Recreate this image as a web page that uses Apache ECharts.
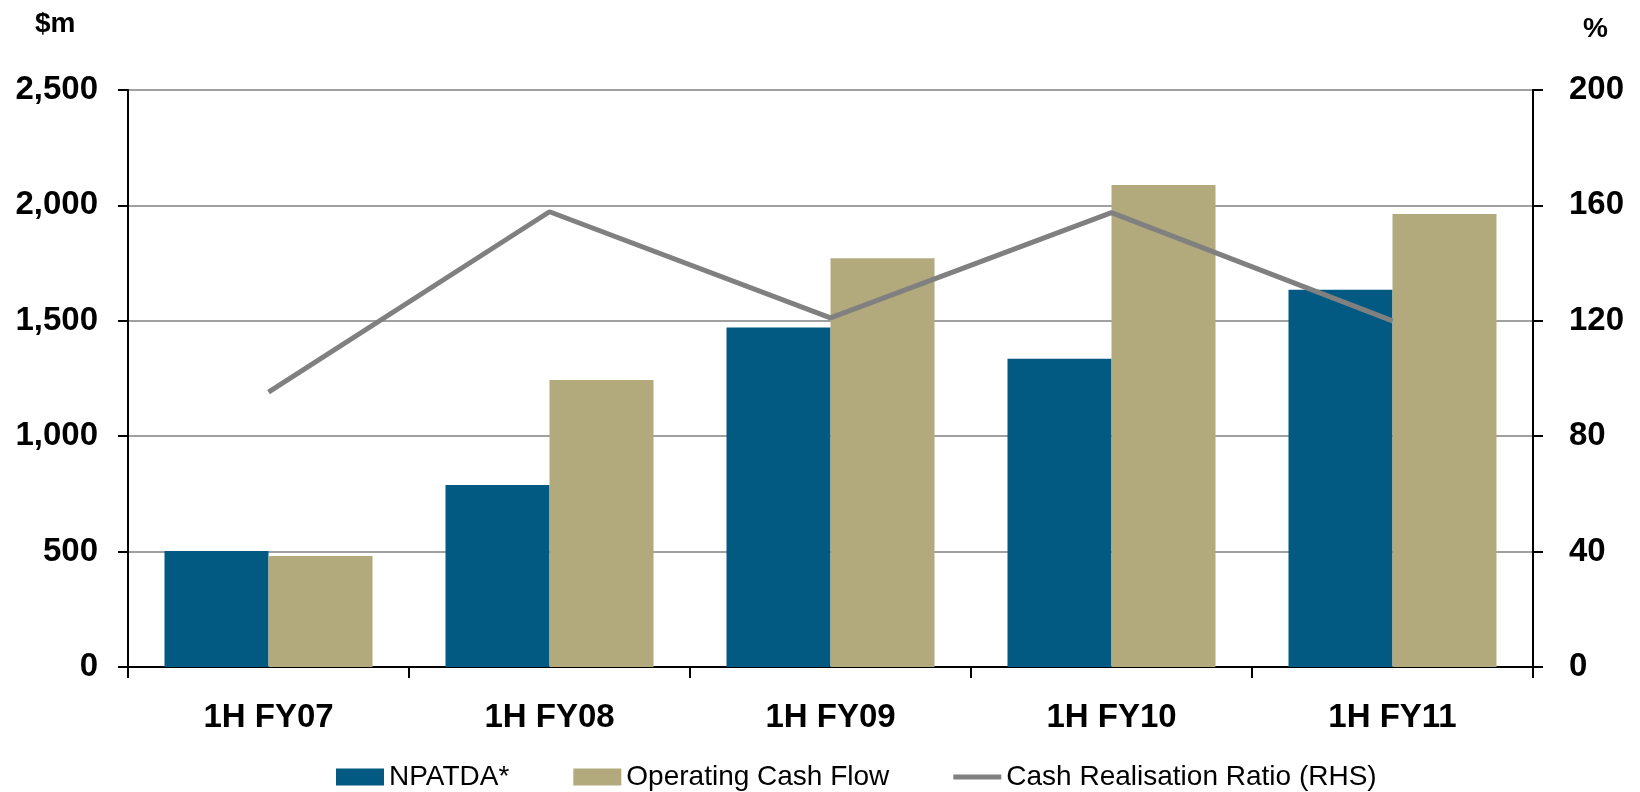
<!DOCTYPE html>
<html>
<head>
<meta charset="utf-8">
<script src="https://cdn.jsdelivr.net/npm/echarts@6/dist/echarts.min.js"></script>
<style>
html,body{margin:0;padding:0;background:#fff;}
#chart{width:1640px;height:792px;}
</style>
</head>
<body>
<div id="chart"></div>
<script>
var categories = ['1H FY07', '1H FY08', '1H FY09', '1H FY10', '1H FY11'];
var npatda = [503, 789, 1471, 1336, 1634];
var operatingCashFlow = [481, 1244, 1771, 2088, 1963];
var cashRealisation = [95.3, 157.8, 121, 157.5, 120];
var leftTicks = [0, 500, 1000, 1500, 2000, 2500];
var rightTicks = [0, 40, 80, 120, 160, 200];

var FONT = '"Liberation Sans", Arial, sans-serif';
var chart = echarts.init(document.getElementById('chart'), null, {renderer: 'canvas'});
chart.setOption({
  animation: false,
  backgroundColor: '#ffffff',
  grid: {left: 128, right: 107, top: 90, bottom: 125, containLabel: false},
  graphic: [
    {type: 'text', left: 35, top: 10, style: {text: '$m', font: 'bold 28px ' + FONT, fill: '#000'}},
    {type: 'text', left: 1583, top: 15, style: {text: '%', font: 'bold 28px ' + FONT, fill: '#000'}}
  ],
  legend: {
    left: 336, top: 763, padding: 0, itemGap: 64,
    itemWidth: 48, itemHeight: 17,
    textStyle: {fontFamily: FONT, fontSize: 28, color: '#000'},
    data: [
      {name: 'NPATDA*', icon: 'rect'},
      {name: 'Operating Cash Flow', icon: 'rect'},
      {name: 'Cash Realisation Ratio (RHS)', icon: 'path://M0,0 L48,0 L48,5 L0,5 Z'}
    ]
  },
  xAxis: {
    type: 'category', data: categories, boundaryGap: true,
    axisLine: {lineStyle: {color: '#000', width: 2}},
    axisTick: {show: true, length: 11, lineStyle: {color: '#000', width: 2}},
    axisLabel: {fontFamily: FONT, fontWeight: 'bold', fontSize: 33, color: '#000', margin: 34}
  },
  yAxis: [
    {
      type: 'value', min: leftTicks[0], max: leftTicks[leftTicks.length - 1], interval: 500,
      axisLine: {show: true, lineStyle: {color: '#000', width: 2}},
      axisTick: {show: true, length: 10, lineStyle: {color: '#000', width: 2}},
      splitLine: {show: true, lineStyle: {color: '#a0a0a0', width: 2}},
      axisLabel: {fontFamily: FONT, fontWeight: 'bold', fontSize: 33, color: '#000', margin: 30,
        formatter: function (v) { return v.toLocaleString('en-US'); }}
    },
    {
      type: 'value', position: 'right', min: rightTicks[0], max: rightTicks[rightTicks.length - 1], interval: 40,
      axisLine: {show: true, lineStyle: {color: '#000', width: 2}},
      axisTick: {show: true, length: 10, lineStyle: {color: '#000', width: 2}},
      splitLine: {show: false},
      axisLabel: {fontFamily: FONT, fontWeight: 'bold', fontSize: 33, color: '#000', margin: 36}
    }
  ],
  series: [
    {name: 'NPATDA*', type: 'bar', yAxisIndex: 0, data: npatda, barWidth: 104, barGap: '0%',
     itemStyle: {color: '#025a83'}},
    {name: 'Operating Cash Flow', type: 'bar', yAxisIndex: 0, data: operatingCashFlow, barWidth: 104, barGap: '0%',
     itemStyle: {color: '#b2a97c'}},
    {name: 'Cash Realisation Ratio (RHS)', type: 'line', yAxisIndex: 1, data: cashRealisation,
     symbol: 'none', lineStyle: {color: '#808080', width: 5}, itemStyle: {color: '#808080'}, z: 5}
  ]
});
</script>
</body>
</html>
